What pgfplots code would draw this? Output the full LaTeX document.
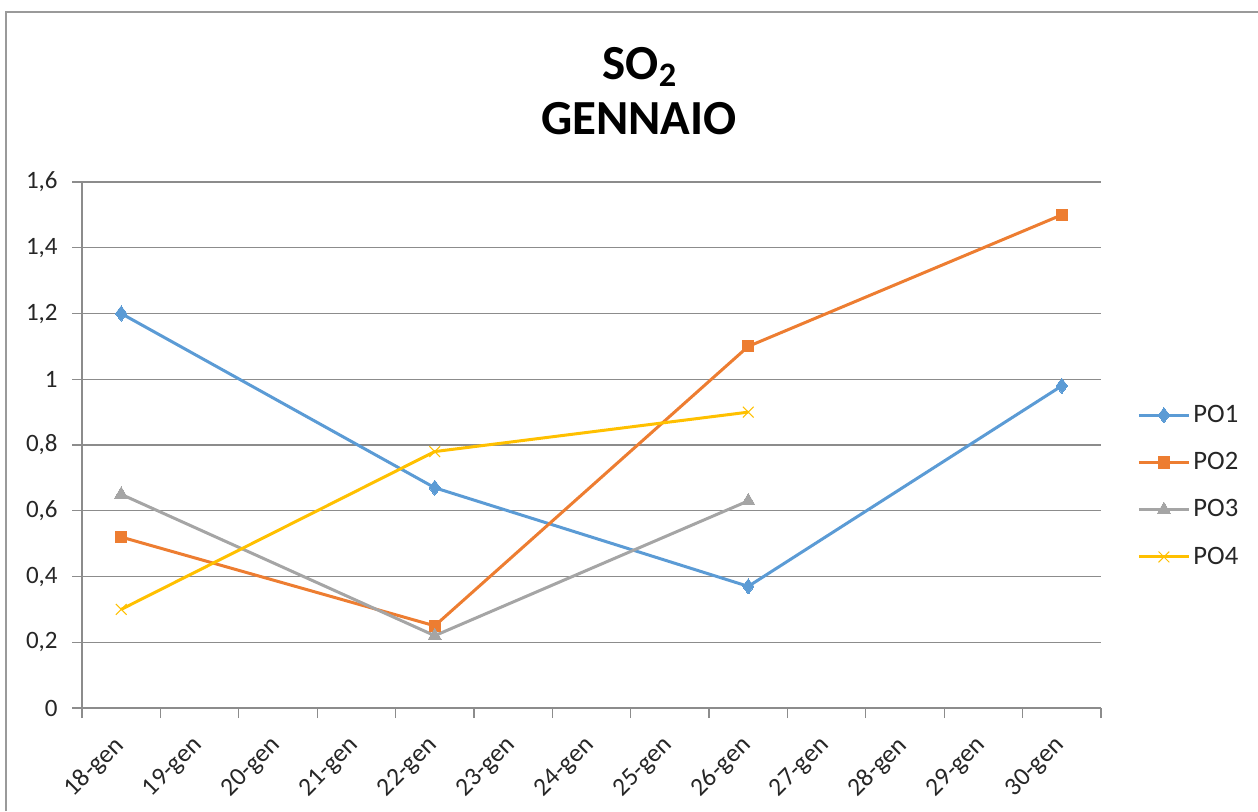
\documentclass[border=0pt]{standalone}
\usepackage{pgfplots}
\pgfplotsset{compat=1.18}
\usepackage{fontspec}
\setmainfont{Carlito}
\usetikzlibrary{plotmarks}
\definecolor{cPOa}{HTML}{5B9BD5}
\definecolor{cPOb}{HTML}{ED7D31}
\definecolor{cPOc}{HTML}{A5A5A5}
\definecolor{cPOd}{HTML}{FFC000}
\definecolor{gridc}{HTML}{8C8C8C}
\definecolor{framec}{HTML}{9A9A9A}
\begin{document}
\begin{tikzpicture}
\path[use as bounding box] (0pt,0pt) rectangle (629pt,405.5pt);
\draw[framec,line width=1.2pt] (3pt,0pt) -- (3pt,399.5pt) -- (629pt,399.5pt);
\node[font=\bfseries\fontsize{24.5}{28}\selectfont,anchor=base] at (320pt,366pt) {SO\textsubscript{2}};
\node[font=\bfseries\fontsize{24.5}{28}\selectfont,anchor=base] at (319.5pt,338.5pt) {GENNAIO};
\begin{axis}[
  at={(41pt,51.5pt)}, anchor=south west,
  scale only axis, width=509.5pt, height=263pt,
  xmin=-0.5, xmax=12.5, ymin=0, ymax=1.6,
  axis x line=bottom, axis y line=left,
  axis line style={gridc, line width=0.6pt, -},
  xtick={0,...,12},
  xticklabels={18-gen,19-gen,20-gen,21-gen,22-gen,23-gen,24-gen,25-gen,26-gen,27-gen,28-gen,29-gen,30-gen},
  minor xtick={-0.5,0.5,...,12.5},
  major x tick style={draw=none},
  minor x tick style={gridc, line width=0.6pt},
  minor tick length=5pt,
  ytick={0,0.2,...,1.6},
  major tick length=5pt,
  tick align=outside,
  y tick style={gridc, line width=0.6pt},
  ymajorgrids, grid style={gridc, line width=0.6pt},
  yticklabel style={/pgf/number format/fixed, /pgf/number format/use comma, /pgf/number format/assume math mode=true, font=\fontsize{12.5}{14}\selectfont, text=black!85, inner sep=1pt, xshift=-6pt},
  xticklabel style={rotate=45, anchor=east, font=\fontsize{12.8}{14}\selectfont, text=black!85, inner sep=1pt, yshift=-8pt, xshift=-7.7pt},
  legend style={at={(1,0.422)}, anchor=west, xshift=18pt, draw=none, font=\fontsize{13.3}{15}\selectfont, text=black!85, row sep=10.5pt, inner sep=0pt, nodes={inner sep=1.5pt}},
  legend cell align=left,
  legend image code/.code={\draw[mark repeat=2,mark phase=2,#1] plot coordinates {(0pt,0pt) (12.5pt,0pt) (25pt,0pt)};},
  every axis plot/.append style={line width=1.5pt},
  clip=false,
]
\addplot[cPOa, mark=diamond*, mark size=3.8pt, mark options={solid, fill=cPOa, line width=0pt}] coordinates {(0,1.2) (4,0.67) (8,0.37) (12,0.98)};
\addlegendentry{PO1}
\addplot[cPOb, mark=square*, mark size=2.8pt, mark options={solid, fill=cPOb, line width=0pt}] coordinates {(0,0.52) (4,0.25) (8,1.1) (12,1.5)};
\addlegendentry{PO2}
\addplot[cPOc, mark=triangle*, mark size=3.8pt, mark options={solid, fill=cPOc, line width=0pt}] coordinates {(0,0.65) (4,0.22) (8,0.63)};
\addlegendentry{PO3}
\addplot[cPOd, mark=x, mark size=3.8pt, mark options={solid, line width=0.5pt}] coordinates {(0,0.3) (4,0.78) (8,0.9)};
\addlegendentry{PO4}
\end{axis}
\end{tikzpicture}
\end{document}
